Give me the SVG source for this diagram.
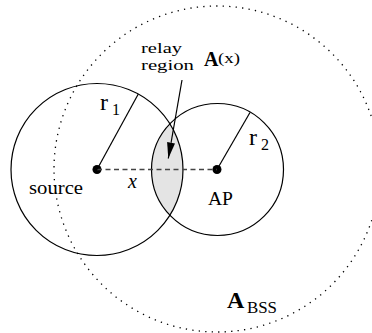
<svg xmlns="http://www.w3.org/2000/svg" width="372" height="333" viewBox="0 0 372 333">
<style>
text{font-family:"Liberation Serif","Times New Roman","DejaVu Serif",serif;fill:#000}
.c{fill:none;stroke:#000;stroke-width:1.2}
.dot{fill:none;stroke:#000;stroke-width:1.3;stroke-dasharray:1.3 5.2}
.b{font-weight:bold}
</style>
<defs>
<marker id="ah" viewBox="0 0 16 8" refX="16" refY="4" markerWidth="16" markerHeight="8" markerUnits="userSpaceOnUse" orient="auto">
<path d="M0 0 L16 4 L0 8 Z" fill="#000"/>
</marker>
</defs>
<rect width="372" height="333" fill="#fff"/>
<g font-family="Liberation Serif, Times New Roman, serif">
<g id="bss">
<circle class="dot" cx="217" cy="169" r="163"/>
<text x="227" y="308" class="b" font-size="24">A</text>
<text x="247" y="313" font-size="17" textLength="30" lengthAdjust="spacingAndGlyphs">BSS</text>
</g>
<g id="relay">
<path d="M170 123.9 A86 86 0 0 1 170 215.1 A66 66 0 0 1 170 123.9 Z" fill="#e4e4e4" stroke="none"/>
<text x="141" y="53" font-size="15.5" textLength="41" lengthAdjust="spacingAndGlyphs">relay</text>
<text x="141" y="70" font-size="15.5" textLength="53" lengthAdjust="spacingAndGlyphs">region</text>
<text x="204" y="66" class="b" font-size="20">A</text>
<text x="218" y="63" font-size="15" textLength="22" lengthAdjust="spacingAndGlyphs">(x)</text>
</g>
<g id="source">
<circle class="c" cx="97" cy="169.5" r="86"/>
<circle cx="97" cy="169.5" r="4.5" fill="#000"/>
<text x="29" y="194" font-size="19" textLength="54" lengthAdjust="spacingAndGlyphs">source</text>
<text x="100" y="110" font-size="24">r</text>
<text x="112" y="115" font-size="16">1</text>
</g>
<g id="ap">
<circle class="c" cx="217.5" cy="169.5" r="66"/>
<circle cx="217" cy="169.5" r="4.5" fill="#000"/>
<text x="208" y="205" font-size="18" textLength="25" lengthAdjust="spacingAndGlyphs">AP</text>
<text x="249" y="145" font-size="24">r</text>
<text x="261" y="150" font-size="16">2</text>
</g>
<g id="connectors">
<line x1="97" y1="169.5" x2="217" y2="169.5" stroke="#444" stroke-width="1.3" stroke-dasharray="5 3.5"/>
<line x1="97" y1="169.5" x2="138.3" y2="94" stroke="#000" stroke-width="1.2"/>
<line x1="217" y1="169.5" x2="250" y2="112.5" stroke="#000" stroke-width="1.2"/>
<line x1="182" y1="80" x2="168.3" y2="158.5" stroke="#000" stroke-width="1.2" marker-end="url(#ah)"/>
<text x="128" y="188" font-size="20" font-style="italic">x</text>
</g>
</g>
</svg>
